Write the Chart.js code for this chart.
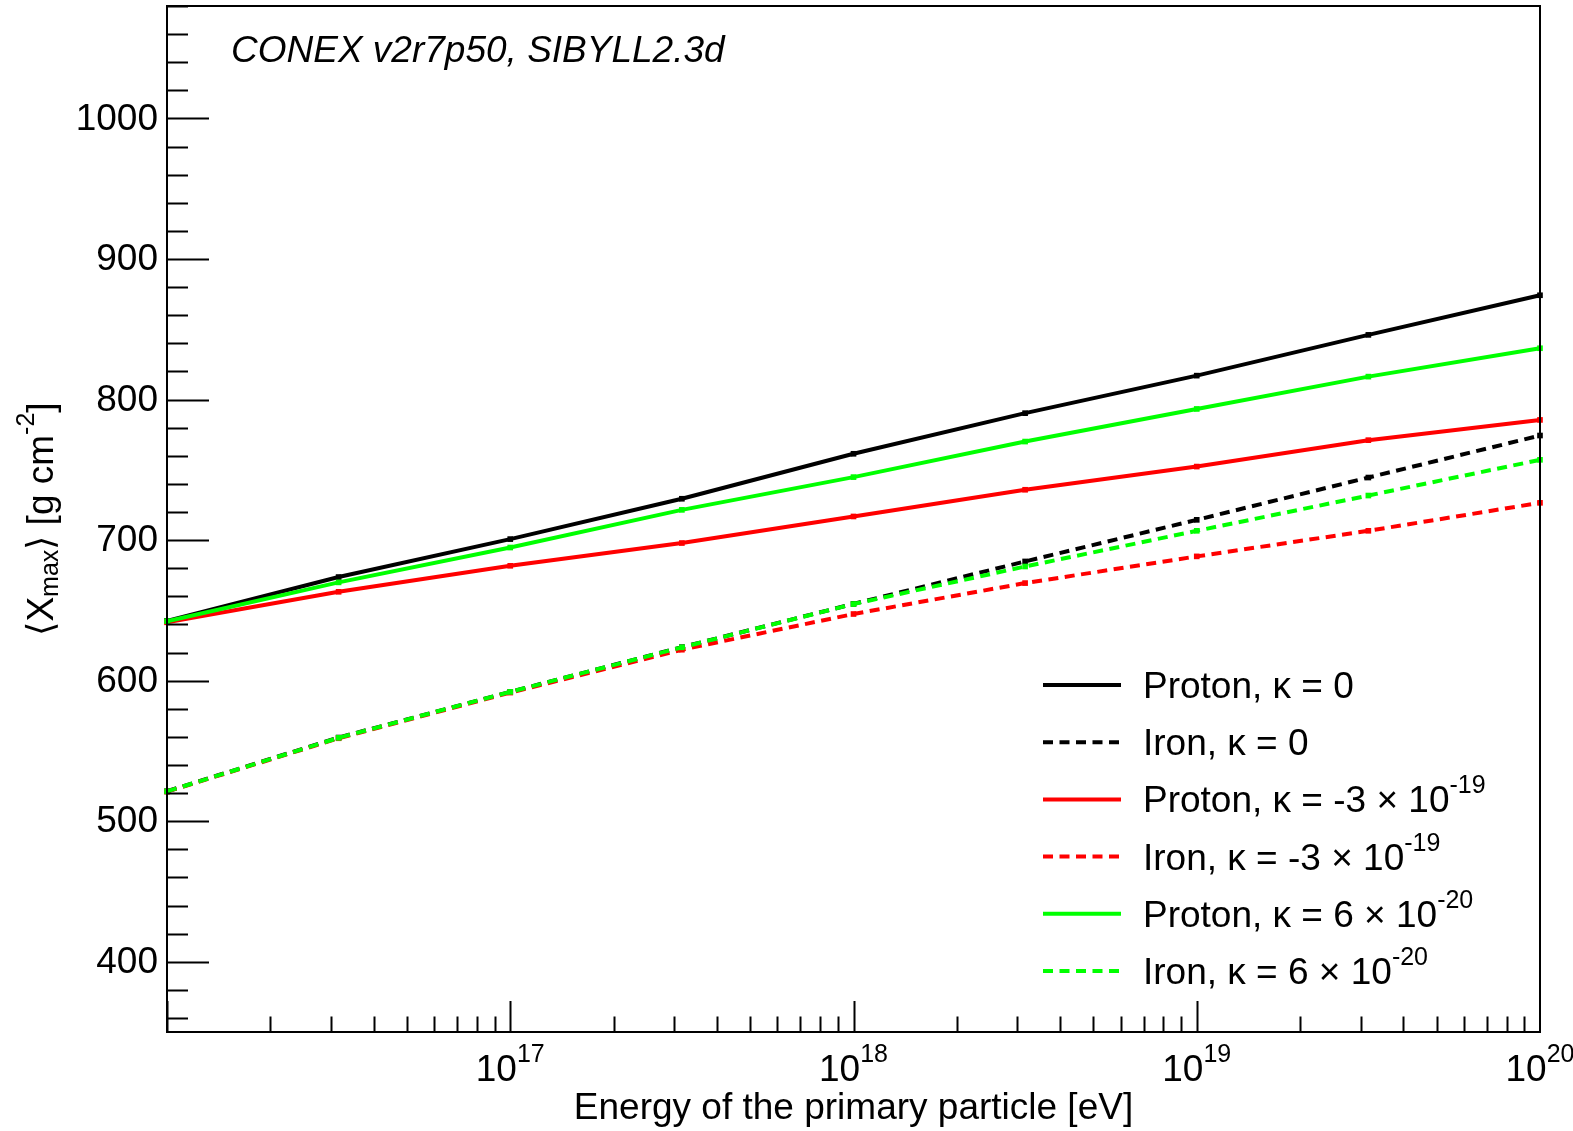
<!DOCTYPE html>
<html>
<head>
<meta charset="utf-8">
<script src="https://cdn.jsdelivr.net/npm/chart.js@4/dist/chart.umd.min.js"></script>
<style>
  body { margin: 0; background: #fff; }
  canvas { display: block; }
</style>
</head>
<body>
<canvas id="xmax_chart" width="1573" height="1131"></canvas>
<script>
// energies of the primary particle [eV]
var energies = [1e16, 3.162e16, 1e17, 3.162e17, 1e18, 3.162e18, 1e19, 3.162e19, 1e20];

// <Xmax> [g cm^-2]
var protonK0 = [642.5, 673.7, 700.7, 729.4, 761.4, 790.3, 817.0, 846.0, 874.2];
var ironK0 = [521.3, 559.5, 592.0, 623.8, 654.6, 684.8, 714.4, 744.5, 774.4];
var protonKNeg = [641.5, 663.2, 681.7, 697.9, 716.8, 735.8, 752.3, 771.1, 785.5];
var ironKNeg = [521.0, 559.0, 591.5, 622.0, 647.4, 669.4, 688.4, 706.6, 726.5];
var protonKPos = [642.3, 669.9, 694.7, 721.5, 744.8, 770.1, 793.3, 816.3, 836.5];
var ironKPos = [521.2, 559.3, 592.0, 623.7, 654.5, 681.2, 706.6, 731.7, 757.1];

var xDecades = [16, 17, 18, 19, 20];
var yMajorTicks = [400, 500, 600, 700, 800, 900, 1000];

var legendLabels = [
  { text: 'Proton, \u03ba = 0', sup: '', color: '#000000', dash: [] },
  { text: 'Iron, \u03ba = 0', sup: '', color: '#000000', dash: [10, 6.5] },
  { text: 'Proton, \u03ba = -3 \u00d7 10', sup: '-19', color: '#ff0000', dash: [] },
  { text: 'Iron, \u03ba = -3 \u00d7 10', sup: '-19', color: '#ff0000', dash: [10, 6.5] },
  { text: 'Proton, \u03ba = 6 \u00d7 10', sup: '-20', color: '#00ff00', dash: [] },
  { text: 'Iron, \u03ba = 6 \u00d7 10', sup: '-20', color: '#00ff00', dash: [10, 6.5] }
];

var FONT = '"Liberation Sans", Arial, Helvetica, sans-serif';
var SIZE = 37;
var SUP = 25;

function points(values) {
  return energies.map(function(e, i) { return { x: e, y: values[i] }; });
}

function makeSet(label, values, color, dashed, order) {
  return {
    label: label,
    data: points(values),
    borderColor: color,
    backgroundColor: color,
    borderWidth: 4,
    borderDash: dashed ? [10, 6.5] : [],
    pointStyle: 'rect',
    pointRadius: 4,
    pointBorderWidth: 0,
    pointBackgroundColor: color,
    tension: 0,
    order: order,
    clip: 6
  };
}

function drawSupText(ctx, x, y, base, sup, align) {
  ctx.font = SIZE + 'px ' + FONT;
  var w1 = ctx.measureText(base).width;
  ctx.font = SUP + 'px ' + FONT;
  var w2 = sup ? ctx.measureText(sup).width : 0;
  var start = x;
  if (align === 'center') start = x - (w1 + w2) / 2;
  ctx.textAlign = 'left';
  ctx.textBaseline = 'alphabetic';
  ctx.font = SIZE + 'px ' + FONT;
  ctx.fillText(base, start, y);
  if (sup) {
    ctx.font = SUP + 'px ' + FONT;
    ctx.fillText(sup, start + w1, y - 19);
  }
}

var rootAxes = {
  id: 'rootAxes',
  afterDatasetsDraw: function(chart) {
    var ctx = chart.ctx;
    var a = chart.chartArea;
    var xs = chart.scales.x;
    var ys = chart.scales.y;
    ctx.save();
    ctx.strokeStyle = '#000';
    ctx.fillStyle = '#000';
    ctx.lineWidth = 2;

    // frame
    ctx.strokeRect(a.left, a.top, a.right - a.left, a.bottom - a.top);

    // y ticks
    ctx.beginPath();
    for (var v = 360; v <= 1080; v += 20) {
      var py = Math.round(ys.getPixelForValue(v)) + 0.5;
      var len = (v % 100 === 0) ? 42 : 21;
      ctx.moveTo(a.left, py);
      ctx.lineTo(a.left + len, py);
    }
    // x ticks
    for (var d = 16; d < 20; d++) {
      for (var m = 1; m <= 9; m++) {
        var px = Math.round(xs.getPixelForValue(m * Math.pow(10, d))) + 0.5;
        var l = (m === 1) ? 31 : 15.5;
        ctx.moveTo(px, a.bottom);
        ctx.lineTo(px, a.bottom - l);
      }
    }
    ctx.stroke();

    // y labels
    ctx.font = SIZE + 'px ' + FONT;
    ctx.textAlign = 'right';
    ctx.textBaseline = 'middle';
    yMajorTicks.forEach(function(t) {
      ctx.fillText(String(t), a.left - 9, ys.getPixelForValue(t) + 1);
    });

    // x labels
    xDecades.forEach(function(d) {
      if (d === 16) return;
      var px = xs.getPixelForValue(Math.pow(10, d));
      drawSupText(ctx, px, 1081, '10', String(d), 'center');
    });

    // x title
    ctx.font = SIZE + 'px ' + FONT;
    ctx.textAlign = 'center';
    ctx.textBaseline = 'alphabetic';
    ctx.fillText('Energy of the primary particle [eV]', (a.left + a.right) / 2, 1119);

    // y title
    ctx.save();
    ctx.translate(53, (a.top + a.bottom) / 2);
    ctx.rotate(-Math.PI / 2);
    var parts = [
      { t: '\u27e8X', s: SIZE, dy: 0 },
      { t: 'max', s: SUP, dy: 5 },
      { t: '\u27e9 [g cm', s: SIZE, dy: 0 },
      { t: '-2', s: SUP, dy: -19 },
      { t: ']', s: SIZE, dy: 0 }
    ];
    var total = 0;
    parts.forEach(function(p) {
      ctx.font = p.s + 'px ' + FONT;
      p.w = ctx.measureText(p.t).width;
      total += p.w;
    });
    var cx = -total / 2;
    ctx.textAlign = 'left';
    parts.forEach(function(p) {
      ctx.font = p.s + 'px ' + FONT;
      ctx.fillText(p.t, cx, p.dy);
      cx += p.w;
    });
    ctx.restore();

    // top-left note
    ctx.font = 'italic ' + SIZE + 'px ' + FONT;
    ctx.textAlign = 'left';
    ctx.fillText('CONEX v2r7p50, SIBYLL2.3d', 231, 62);

    // legend
    legendLabels.forEach(function(item, i) {
      var cy = 685 + i * 57.2;
      ctx.beginPath();
      ctx.setLineDash(item.dash);
      ctx.lineWidth = 4;
      ctx.strokeStyle = item.color;
      ctx.moveTo(1043, cy);
      ctx.lineTo(1121, cy);
      ctx.stroke();
      ctx.setLineDash([]);
      ctx.fillStyle = '#000';
      drawSupText(ctx, 1143, cy + 13, item.text, item.sup, 'left');
    });

    ctx.restore();
  }
};

var chart = new Chart(document.getElementById('xmax_chart').getContext('2d'), {
  type: 'line',
  data: {
    datasets: [
      makeSet('Proton, k = 0', protonK0, '#000000', false, 4),
      makeSet('Iron, k = 0', ironK0, '#000000', true, 5),
      makeSet('Proton, k = -3e-19', protonKNeg, '#ff0000', false, 2),
      makeSet('Iron, k = -3e-19', ironKNeg, '#ff0000', true, 3),
      makeSet('Proton, k = 6e-20', protonKPos, '#00ff00', false, 0),
      makeSet('Iron, k = 6e-20', ironKPos, '#00ff00', true, 1)
    ]
  },
  options: {
    responsive: false,
    animation: false,
    layout: { padding: { left: 167, right: 33, top: 6, bottom: 99 } },
    plugins: {
      legend: { display: false },
      tooltip: { enabled: false }
    },
    scales: {
      x: { type: 'logarithmic', min: 1e16, max: 1e20, display: false },
      y: { type: 'linear', min: 350, max: 1080, display: false }
    }
  },
  plugins: [rootAxes]
});
</script>
</body>
</html>
